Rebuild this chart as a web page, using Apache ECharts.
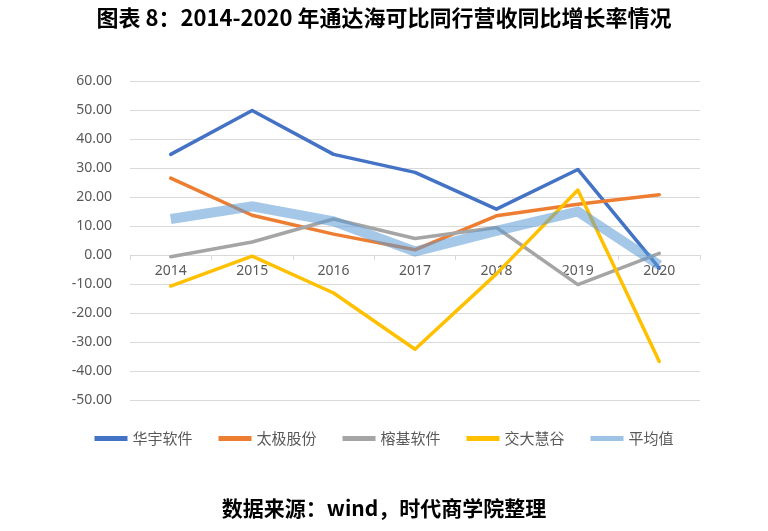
<!DOCTYPE html>
<html><head><meta charset="utf-8">
<script src="https://cdn.jsdelivr.net/npm/echarts@6/dist/echarts.min.js"></script>
<style>html,body{margin:0;padding:0;background:#fff}#c{width:768px;height:531px}</style>
</head><body><div id="c"></div>
<script>
const years = ['2014','2015','2016','2017','2018','2019','2020'];
const huayu = [34.7, 49.8, 34.7, 28.5, 15.8, 29.5, -4.5];
const taiji = [26.5, 13.7, 7.2, 1.8, 13.5, 17.5, 20.8];
const rongji = [-0.6, 4.5, 12.4, 5.7, 9.5, -10.2, 0.6];
const jiaoda = [-10.7, -0.4, -13.1, -32.5, -6.5, 22.4, -36.7];
const avg = [12.4, 16.8, 11.6, 1.2, 8.3, 15.0, -3.5];
const names = ['华宇软件','太极股份','榕基软件','交大慧谷','平均值'];

const chart = echarts.init(document.getElementById('c'));
const mk = (name, data, color, width, z) => ({
  name, type: 'line', data, symbol: 'none', z,
  lineStyle: {color, width, cap: 'round', join: 'round'},
  itemStyle: {color}
});
const plotTop = 81, plotBottom = 400;
const zeroOffset = (plotBottom - plotTop) * 50 / 110;
chart.setOption({
  animation: false,
  title: [{
    text: '图表 8：2014-2020 年通达海可比同行营收同比增长率情况',
    left: 'center', top: 2,
    textStyle: {fontFamily: 'Noto Sans CJK SC', fontWeight: 'bold', fontSize: 22, color: '#000'}
  }, {
    text: '数据来源：wind，时代商学院整理',
    left: 'center', top: 493,
    textStyle: {fontFamily: 'Noto Sans CJK SC', fontWeight: 'bold', fontSize: 21, color: '#000'}
  }],
  grid: {left: 130, right: 68, top: plotTop, bottom: 531 - plotBottom},
  legend: {
    data: names.map((n, i) => i === 4 ? {name: n, itemStyle: {color: '#9dc3e6'}} : n),
    top: 426, left: 'center', itemGap: 26,
    itemWidth: 33, itemHeight: 5, icon: 'rect',
    textStyle: {fontFamily: 'Noto Sans CJK SC', fontSize: 15, color: '#595959'}
  },
  xAxis: {
    type: 'category', data: years, boundaryGap: true, position: 'bottom',
    offset: -zeroOffset,
    axisLine: {onZero: false, lineStyle: {color: '#d9d9d9', width: 1}},
    axisTick: {show: true, length: 5, lineStyle: {color: '#d9d9d9'}},
    axisLabel: {fontFamily: 'Noto Sans', fontSize: 14, color: '#595959', margin: 9}
  },
  yAxis: {
    type: 'value', min: -50, max: 60, interval: 10,
    axisLine: {show: false}, axisTick: {show: false},
    splitLine: {lineStyle: {color: '#d9d9d9', width: 1}},
    axisLabel: {fontFamily: 'Noto Sans', fontSize: 14, color: '#595959', margin: 18,
      formatter: v => v.toFixed(2)}
  },
  series: [
    mk('华宇软件', huayu, '#4472c4', 3.5, 2),
    mk('太极股份', taiji, '#ed7d31', 3.5, 2),
    mk('榕基软件', rongji, '#a5a5a5', 3.5, 2),
    mk('交大慧谷', jiaoda, '#ffc000', 3.5, 2),
    {
      name: '平均值', type: 'line', data: avg, symbol: 'none', z: 3,
      lineStyle: {color: 'rgba(91,155,213,0.55)', width: 10, cap: 'butt', join: 'miter'},
      itemStyle: {color: '#9dc3e6'}
    }
  ]
});
</script></body></html>
